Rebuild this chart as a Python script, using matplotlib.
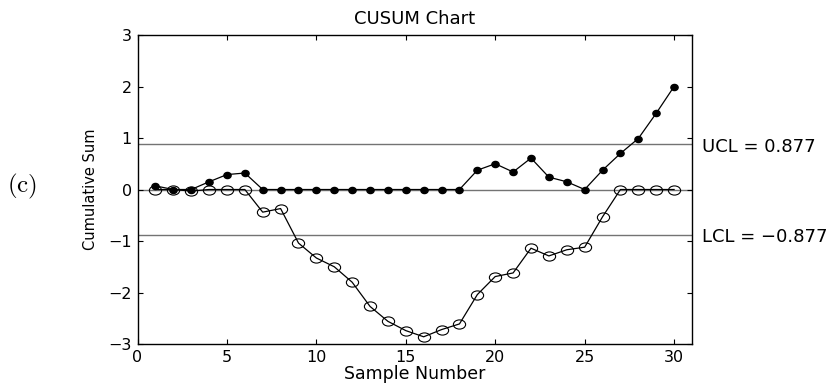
import numpy as np
import matplotlib
matplotlib.use("Agg")
import matplotlib.pyplot as plt
from matplotlib.path import Path

plt.rcParams['font.family'] = ['DejaVu Sans']
plt.rcParams['mathtext.fontset'] = 'cm'

# samples and cusum values
samples = list(range(1, 31))
upper = [0.07, 0.0, 0.0, 0.15, 0.29, 0.32, 0, 0, 0, 0, 0, 0, 0, 0, 0, 0, 0, 0,
         0.375, 0.50, 0.34, 0.61, 0.24, 0.15, 0.0, 0.375, 0.70, 0.99, 1.48, 2.0]
lower = [0.0, 0.0, -0.03, 0.0, 0.0, 0.0, -0.44, -0.37, -1.04, -1.33, -1.50, -1.80,
         -2.27, -2.56, -2.74, -2.86, -2.72, -2.61, -2.04, -1.69, -1.62, -1.14,
         -1.29, -1.17, -1.12, -0.53, 0.0, 0.0, 0.0, 0.0]
ucl = 0.877
lcl = -0.877
xticks = [0, 5, 10, 15, 20, 25, 30]
yticks = [-3, -2, -1, 0, 1, 2, 3]


def ellipse_marker(aspect):
    # the source picture is a bit stretched sideways, so circles come out wide
    circ = Path.unit_circle()
    verts = circ.vertices * np.array([1.0, aspect])
    return Path(verts, circ.codes)


fig = plt.figure(figsize=(8.35, 3.86), dpi=100)
ax = fig.add_axes([0.1647, 0.1088, 0.664, 0.8005])

# control limits and centre line
for lvl in (ucl, 0, lcl):
    ax.axhline(lvl, color='0.45', lw=1.0, zorder=1)

ax.plot(samples, upper, '-', color='black', lw=0.9, marker=ellipse_marker(0.85), ms=5.2,
        mfc='black', mec='black', zorder=3)
ax.plot(samples, lower, '-', color='black', lw=0.9, marker=ellipse_marker(0.75), ms=8.8,
        mfc='none', mec='black', mew=0.8, zorder=2)

ax.set_xlim(0, 31)
ax.set_ylim(-3, 3)
ax.set_xticks(xticks)
ax.set_yticks(yticks)
ax.set_yticklabels(['\u22123', '\u22122', '\u22121', '0', '1', '2', '3'])
ax.tick_params(direction='in', top=True, right=True, length=3.5, labelsize=11.5)
ax.tick_params(axis='x', pad=4)
ax.tick_params(axis='y', pad=4)
for s in ax.spines.values():
    s.set_linewidth(1.0)

ax.set_title('CUSUM Chart', fontsize=13, pad=8)
ax.set_xlabel('Sample Number', fontsize=12.5, labelpad=0.5)
ax.set_ylabel('Cumulative Sum', fontsize=10.5)
ax.yaxis.set_label_coords(-0.071, 0.5)

ax.annotate('UCL = 0.877', xy=(1, ucl), xycoords=('axes fraction', 'data'),
            xytext=(7, -5.5), textcoords='offset points', fontsize=13, va='baseline')
ax.annotate('LCL = \u22120.877', xy=(1, lcl), xycoords=('axes fraction', 'data'),
            xytext=(7, -5.3), textcoords='offset points', fontsize=13, va='baseline')
fig.text(22 / 835, 1 - 186 / 386, r'$\mathrm{(c)}$', fontsize=18, va='center', ha='center')

fig.savefig('out.png', dpi=100)
